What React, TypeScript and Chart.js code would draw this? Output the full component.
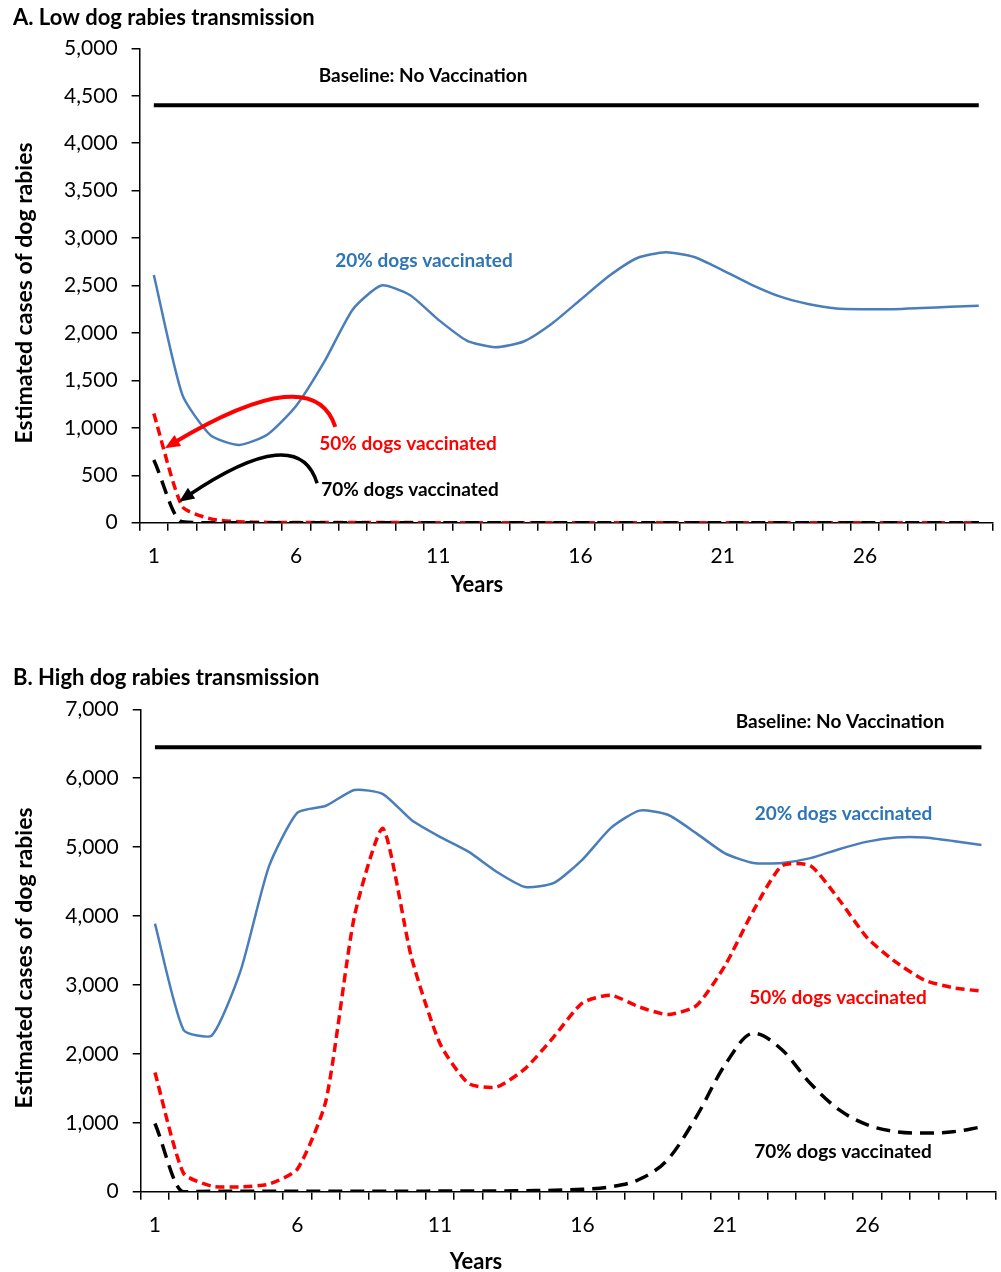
import React, { useEffect, useRef } from "react";
import { Chart, registerables } from "chart.js";

Chart.register(...registerables);

// ---------------- DATA ----------------
const YEARS = ["1","2","3","4","5","6","7","8","9","10","11","12","13","14","15","16","17","18","19","20","21","22","23","24","25","26","27","28","29","30"];
const X_TICK_LABELS = ["1", "6", "11", "16", "21", "26"];

// Panel A: low transmission
const LOW_BASELINE = 4400;
const LOW_20 = [2610, 1350, 920, 820, 930, 1230, 1700, 2250, 2500, 2400, 2140, 1920, 1850, 1910, 2100, 2350, 2600, 2790, 2850, 2800, 2660, 2510, 2385, 2305, 2257, 2250, 2250, 2262, 2275, 2286];
const LOW_50 = [1150, 170, 40, 10, 3, 2, 1, 1, 1, 1, 0, 0, 0, 0, 0, 0, 0, 0, 0, 0, 0, 0, 0, 0, 0, 0, 0, 0, 0, 0];
const LOW_70 = [660, 10, 0, 0, 0, 0, 0, 0, 0, 0, 0, 0, 0, 0, 0, 0, 0, 0, 0, 0, 0, 0, 0, 0, 0, 0, 0, 0, 0, 0];
const LOW_Y_MAX = 5000;
const LOW_Y_STEP = 500;

// Panel B: high transmission
const HIGH_BASELINE = 6450;
const HIGH_20 = [3890, 2350, 2270, 3200, 4720, 5500, 5600, 5830, 5770, 5395, 5150, 4935, 4640, 4420, 4480, 4820, 5280, 5530, 5470, 5200, 4910, 4770, 4770, 4840, 4970, 5080, 5140, 5140, 5090, 5030];
const HIGH_50 = [1730, 270, 80, 70, 110, 330, 1320, 4000, 5270, 3400, 2150, 1570, 1520, 1790, 2250, 2740, 2850, 2680, 2570, 2700, 3280, 4080, 4730, 4730, 4240, 3680, 3330, 3070, 2960, 2910];
const HIGH_70 = [990, 0, 5, 5, 5, 5, 5, 5, 5, 5, 10, 10, 10, 15, 20, 35, 70, 180, 470, 1090, 1840, 2300, 2060, 1570, 1190, 970, 870, 850, 870, 940];
const HIGH_Y_MAX = 7000;
const HIGH_Y_STEP = 1000;

// Curved arrows (year, cases): start, apex, end (arrowhead)
const LOW_ARROW_50 = [[7.38, 1010], [5.5, 1310], [1.39, 785]];
const LOW_ARROW_70 = [[6.74, 415], [5.2, 696], [1.89, 222]];

// ---------------- STYLE ----------------
const FONT = "Lato, 'Open Sans', sans-serif";
const BLUE = "#4a7ebb";
const BLUE_TEXT = "#2e75b6";
const RED = "#ff0000";
const BLACK = "#000000";

type TextItem = { text: string; x: number; y: number; color: string; size: number; align?: CanvasTextAlign; rotate?: boolean };
type ArrowItem = { points: number[][]; color: string; width: number };

function makeAnnotPlugin(texts: TextItem[], arrows: ArrowItem[]) {
  return {
    id: "annot",
    afterDraw(chart: any) {
      const ctx: CanvasRenderingContext2D = chart.ctx;
      const xs = chart.scales.x;
      const ys = chart.scales.y;
      ctx.save();
      for (const a of arrows) {
        const pts = a.points.map(([yr, v]) => [xs.getPixelForValue(yr - 1), ys.getPixelForValue(v)]);
        const [S, P, E] = pts;
        const C = [2 * P[0] - 0.5 * S[0] - 0.5 * E[0], 2 * P[1] - 0.5 * S[1] - 0.5 * E[1]];
        const ang = Math.atan2(E[1] - C[1], E[0] - C[0]);
        const hl = 15;
        const hw = 6.5;
        const Eb = [E[0] - Math.cos(ang) * hl * 0.7, E[1] - Math.sin(ang) * hl * 0.7];
        ctx.strokeStyle = a.color;
        ctx.lineWidth = a.width;
        ctx.lineCap = "butt";
        ctx.beginPath();
        ctx.moveTo(S[0], S[1]);
        ctx.quadraticCurveTo(C[0], C[1], Eb[0], Eb[1]);
        ctx.stroke();
        const bx = E[0] - Math.cos(ang) * hl;
        const by = E[1] - Math.sin(ang) * hl;
        ctx.fillStyle = a.color;
        ctx.beginPath();
        ctx.moveTo(E[0], E[1]);
        ctx.lineTo(bx + Math.sin(ang) * hw, by - Math.cos(ang) * hw);
        ctx.lineTo(bx - Math.sin(ang) * hw, by + Math.cos(ang) * hw);
        ctx.closePath();
        ctx.fill();
      }
      for (const t of texts) {
        ctx.save();
        ctx.font = `bold ${t.size}px ${FONT}`;
        ctx.fillStyle = t.color;
        ctx.textAlign = t.align || "center";
        ctx.textBaseline = "middle";
        if (t.rotate) {
          ctx.translate(t.x, t.y);
          ctx.rotate(-Math.PI / 2);
          ctx.fillText(t.text, 0, 0);
        } else {
          ctx.fillText(t.text, t.x, t.y);
        }
        ctx.restore();
      }
      ctx.restore();
    },
  };
}

type PanelProps = {
  top: number;
  height: number;
  areaTop: number;
  areaBottom: number;
  areaLeft: number;
  areaRight: number;
  baseline: number;
  s20: number[];
  s50: number[];
  s70: number[];
  yMax: number;
  yStep: number;
  texts: TextItem[];
  arrows: ArrowItem[];
};

function Panel(p: PanelProps) {
  const ref = useRef<HTMLCanvasElement>(null);
  useEffect(() => {
    if (!ref.current) return;
    const W = 1001;
    const chart = new Chart(ref.current, {
      type: "line",
      data: {
        labels: YEARS,
        datasets: [
          {
            label: "70% dogs vaccinated",
            data: p.s70,
            borderColor: BLACK,
            borderWidth: 3.5,
            borderDash: [14, 8],
            pointRadius: 0,
            cubicInterpolationMode: "monotone",
            fill: false,
          },
          {
            label: "50% dogs vaccinated",
            data: p.s50,
            borderColor: RED,
            borderWidth: 3.5,
            borderDash: [9, 5],
            pointRadius: 0,
            tension: 0.2,
            fill: false,
          },
          {
            label: "20% dogs vaccinated",
            data: p.s20,
            borderColor: BLUE,
            borderWidth: 2.5,
            pointRadius: 0,
            tension: 0.2,
            fill: false,
          },
          {
            label: "Baseline: No Vaccination",
            data: [
              { x: YEARS[0], y: p.baseline },
              { x: YEARS[YEARS.length - 1], y: p.baseline },
            ] as any,
            borderColor: BLACK,
            borderWidth: 4,
            pointRadius: 0,
            fill: false,
          },
        ],
      },
      options: {
        responsive: false,
        animation: false,
        devicePixelRatio: 1,
        layout: {
          padding: { top: p.areaTop, left: 0, right: W - p.areaRight, bottom: 0 },
        },
        plugins: {
          legend: { display: false },
          tooltip: { enabled: false },
          title: { display: false },
        },
        scales: {
          x: {
            type: "category",
            offset: true,
            afterFit: (s: any) => {
              s.height = p.height - p.areaBottom;
            },
            grid: {
              display: true,
              offset: true,
              drawOnChartArea: false,
              drawTicks: true,
              tickLength: 8,
              color: BLACK,
              lineWidth: 1.5,
            },
            border: { display: true, color: BLACK, width: 1.5 },
            ticks: {
              autoSkip: false,
              maxRotation: 0,
              minRotation: 0,
              padding: 13,
              color: BLACK,
              font: { family: FONT, size: 21 },
              callback: (_v: any, i: number) => (X_TICK_LABELS.includes(YEARS[i]) ? YEARS[i] : ""),
            },
          },
          y: {
            min: 0,
            max: p.yMax,
            afterFit: (s: any) => {
              s.width = p.areaLeft;
            },
            grid: {
              display: true,
              drawOnChartArea: false,
              drawTicks: true,
              tickLength: 8,
              color: BLACK,
              lineWidth: 1.5,
            },
            border: { display: true, color: BLACK, width: 1.5 },
            ticks: {
              stepSize: p.yStep,
              padding: 14,
              color: BLACK,
              font: { family: FONT, size: 21 },
              callback: (v: any) => Number(v).toLocaleString("en-US"),
            },
          },
        },
      },
      plugins: [makeAnnotPlugin(p.texts, p.arrows)],
    });
    return () => chart.destroy();
  }, []);
  return (
    <div style={{ position: "absolute", left: 0, top: p.top, width: 1001, height: p.height }}>
      <canvas ref={ref} width={1001} height={p.height} style={{ width: 1001, height: p.height, display: "block" }} />
    </div>
  );
}

export default function App() {
  const textsA: TextItem[] = [
    { text: "A. Low dog rabies transmission", x: 13, y: 18, color: BLACK, size: 22, align: "left" },
    { text: "Estimated cases of dog rabies", x: 25, y: 293, color: BLACK, size: 23, rotate: true },
    { text: "Years", x: 477, y: 585, color: BLACK, size: 22 },
    { text: "Baseline: No Vaccination", x: 423, y: 76, color: BLACK, size: 19 },
    { text: "20% dogs vaccinated", x: 424, y: 261, color: BLUE_TEXT, size: 19 },
    { text: "50% dogs vaccinated", x: 408, y: 444, color: RED, size: 19 },
    { text: "70% dogs vaccinated", x: 410, y: 490, color: BLACK, size: 19 },
  ];
  const arrowsA: ArrowItem[] = [
    { points: LOW_ARROW_50, color: RED, width: 4 },
    { points: LOW_ARROW_70, color: BLACK, width: 3.5 },
  ];
  const textsB: TextItem[] = [
    { text: "B. High dog rabies transmission", x: 13, y: 38, color: BLACK, size: 22, align: "left" },
    { text: "Estimated cases of dog rabies", x: 25, y: 318, color: BLACK, size: 23, rotate: true },
    { text: "Years", x: 476, y: 622, color: BLACK, size: 22 },
    { text: "Baseline: No Vaccination", x: 840, y: 81.7, color: BLACK, size: 19 },
    { text: "20% dogs vaccinated", x: 843.5, y: 174, color: BLUE_TEXT, size: 19 },
    { text: "50% dogs vaccinated", x: 838, y: 358, color: RED, size: 19 },
    { text: "70% dogs vaccinated", x: 843, y: 511.7, color: BLACK, size: 19 },
  ];
  return (
    <div style={{ position: "absolute", left: 0, top: 0, width: 1001, height: 1272, background: "#fff" }}>
      <Panel
        top={0}
        height={640}
        areaTop={48.3}
        areaBottom={522.7}
        areaLeft={139.6}
        areaRight={993}
        baseline={LOW_BASELINE}
        s20={LOW_20}
        s50={LOW_50}
        s70={LOW_70}
        yMax={LOW_Y_MAX}
        yStep={LOW_Y_STEP}
        texts={textsA}
        arrows={arrowsA}
      />
      <Panel
        top={640}
        height={632}
        areaTop={69.3}
        areaBottom={551.7}
        areaLeft={140.7}
        areaRight={995.7}
        baseline={HIGH_BASELINE}
        s20={HIGH_20}
        s50={HIGH_50}
        s70={HIGH_70}
        yMax={HIGH_Y_MAX}
        yStep={HIGH_Y_STEP}
        texts={textsB}
        arrows={[]}
      />
    </div>
  );
}
